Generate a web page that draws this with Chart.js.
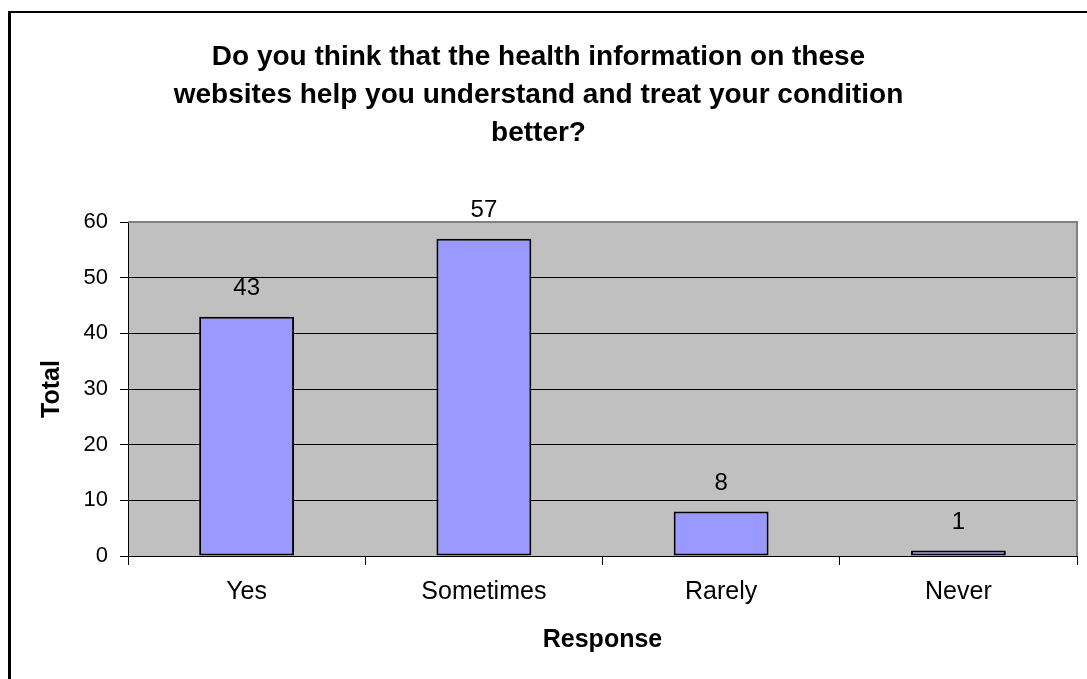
<!DOCTYPE html>
<html>
<head>
<meta charset="utf-8">
<script src="https://cdn.jsdelivr.net/npm/chart.js@4/dist/chart.umd.min.js"></script>
<style>
  html, body { margin: 0; padding: 0; background: #fff; }
  #wrap { width: 1087px; height: 679px; position: relative; }
</style>
</head>
<body>
<div id="wrap"><canvas id="responseChart"></canvas></div>
<script>
const responses = ['Yes', 'Sometimes', 'Rarely', 'Never'];
const totals = [43, 57, 8, 1];
const yTicks = [0, 10, 20, 30, 40, 50, 60];
const titleLines = [
  'Do you think that the health information on these',
  'websites help you understand and treat your condition',
  'better?'
];

const FONT = "'Liberation Sans', Arial, sans-serif";

// gray plot background, frame lines and the outer chart border
const plotFrame = {
  id: 'plotFrame',
  beforeDraw(chart) {
    const { ctx, chartArea: a } = chart;
    ctx.save();
    ctx.fillStyle = '#c0c0c0';
    ctx.fillRect(a.left, a.top, a.right - a.left, a.bottom - a.top);
    ctx.fillStyle = '#000';
    ctx.fillRect(8, 11, 3, 700);
    ctx.fillRect(8, 11, 1100, 2);
    ctx.restore();
  },
  afterDatasetsDraw(chart) {
    const { ctx, chartArea: a } = chart;
    ctx.save();
    ctx.strokeStyle = '#808080';
    ctx.lineWidth = 2;
    ctx.beginPath();
    ctx.moveTo(a.left, a.top);
    ctx.lineTo(a.right, a.top);
    ctx.lineTo(a.right, a.bottom);
    ctx.stroke();
    ctx.restore();
  }
};

// value printed above each bar
const valueLabels = {
  id: 'valueLabels',
  afterDatasetsDraw(chart) {
    const { ctx } = chart;
    const meta = chart.getDatasetMeta(0);
    ctx.save();
    ctx.fillStyle = '#000';
    ctx.font = '24px ' + FONT;
    ctx.textAlign = 'center';
    ctx.textBaseline = 'middle';
    meta.data.forEach((bar, i) => {
      ctx.fillText(String(totals[i]), bar.x, bar.y - 28);
    });
    ctx.restore();
  }
};

new Chart(document.getElementById('responseChart'), {
  type: 'bar',
  data: {
    labels: responses,
    datasets: [{
      data: totals,
      backgroundColor: '#9999ff',
      borderColor: '#000',
      borderWidth: 2,
      borderSkipped: false,
      barPercentage: 0.4,
      categoryPercentage: 1
    }]
  },
  options: {
    responsive: true,
    maintainAspectRatio: false,
    animation: false,
    layout: { padding: { left: 0, right: 10, top: 0, bottom: 0 } },
    plugins: {
      legend: { display: false },
      tooltip: { enabled: false },
      title: {
        display: true,
        text: titleLines,
        color: '#000',
        font: { family: FONT, size: 28, weight: 'bold', lineHeight: 38 / 28 },
        padding: { top: 38, bottom: 70 }
      }
    },
    scales: {
      x: {
        grid: {
          display: true,
          drawOnChartArea: false,
          drawTicks: true,
          tickLength: 9,
          color: '#000',
          offset: true
        },
        border: { display: true, color: '#000', width: 1 },
        ticks: {
          color: '#000',
          padding: 12,
          font: { family: FONT, size: 25 }
        },
        title: {
          display: true,
          text: 'Response',
          color: '#000',
          font: { family: FONT, size: 25, weight: 'bold' },
          padding: { top: 0, bottom: 24 }
        },
        afterFit(scale) { scale.height = 123; }
      },
      y: {
        min: 0,
        max: 60,
        afterBuildTicks(scale) { scale.ticks = yTicks.map(v => ({ value: v })); },
        grid: {
          color: '#000',
          tickLength: 8,
          lineWidth: 1
        },
        border: { display: true, color: '#000', width: 1 },
        ticks: {
          color: '#000',
          padding: 12,
          font: { family: FONT, size: 22 }
        },
        title: {
          display: true,
          text: 'Total',
          color: '#000',
          font: { family: FONT, size: 25, weight: 'bold' },
          padding: { top: 37, bottom: 0 }
        },
        afterFit(scale) { scale.width = 128; }
      }
    }
  },
  plugins: [plotFrame, valueLabels]
});
</script>
</body>
</html>
